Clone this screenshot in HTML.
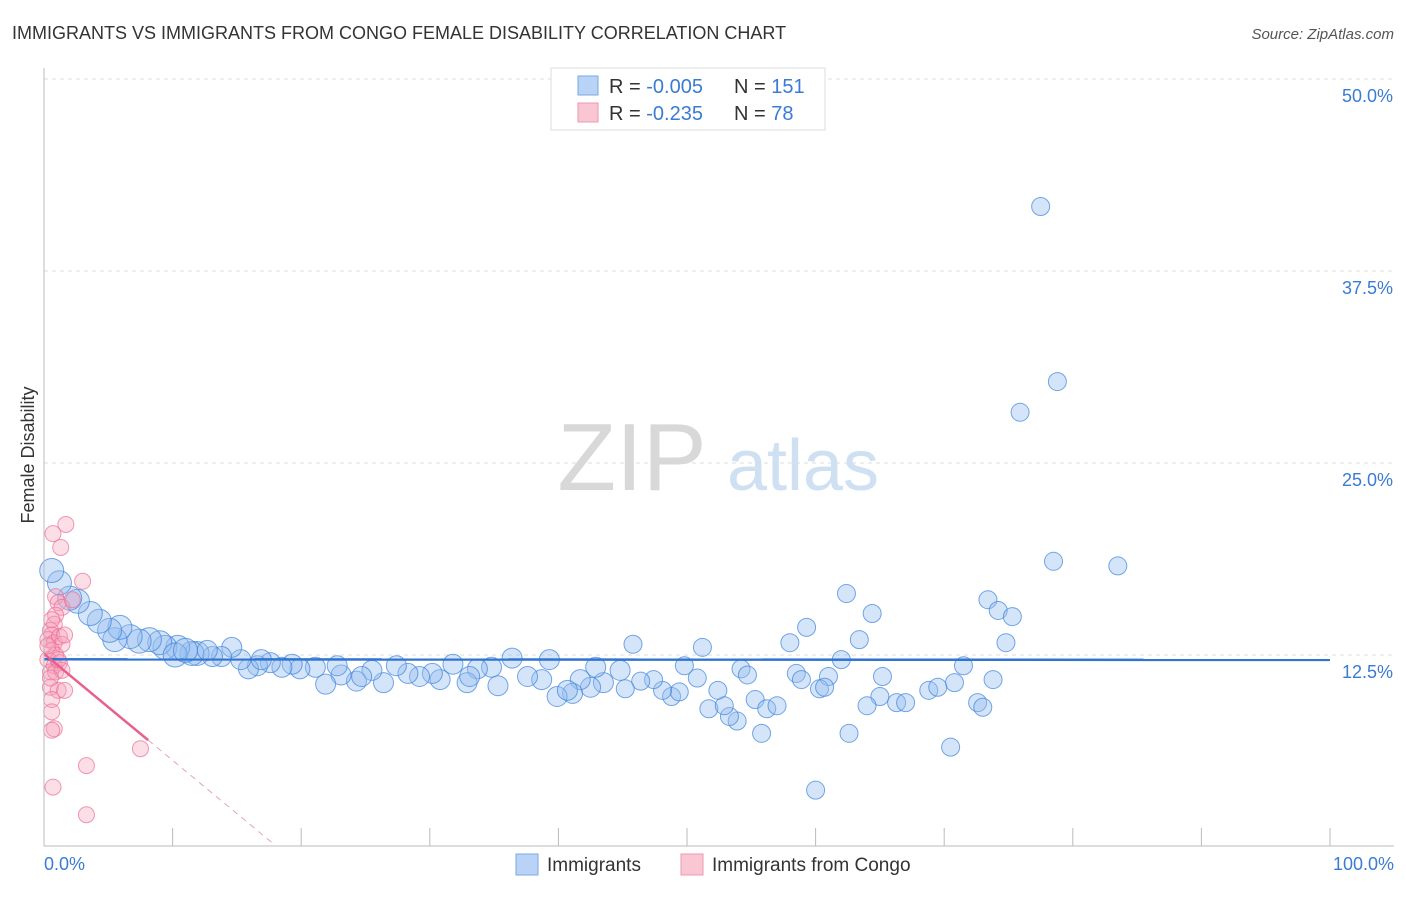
<!DOCTYPE html>
<html><head><meta charset="utf-8"><style>
body{margin:0;background:#fff;font-family:"Liberation Sans",sans-serif}
svg text{font-family:"Liberation Sans",sans-serif}
</style></head><body>
<svg id="chart" width="1406" height="892">
<text x="12" y="39" font-size="18" fill="#333">IMMIGRANTS VS IMMIGRANTS FROM CONGO FEMALE DISABILITY CORRELATION CHART</text>
<text x="1394" y="39" font-size="15" fill="#555" font-style="italic" text-anchor="end">Source: ZipAtlas.com</text>
<g id="grid"></g>
<g>
<text x="632" y="490" font-size="96" font-family="Liberation Serif,serif" fill="#d8d8d8" text-anchor="middle">ZIP</text>
<text x="803" y="490" font-size="72" fill="#cfe0f3" text-anchor="middle">atlas</text>
</g>
<g id="pts"></g>
<g id="trend"></g>
<g id="axes"></g>
<text transform="translate(34,455) rotate(-90)" font-size="18" fill="#333" text-anchor="middle">Female Disability</text>
<text x="44" y="870" font-size="18" fill="#3a7bd5">0.0%</text>
<text x="1394" y="870" font-size="18" fill="#3a7bd5" text-anchor="end">100.0%</text>
<g>
<rect x="551" y="68" width="274" height="62" fill="#fff" stroke="#ddd"/>
<rect x="578" y="76" width="20" height="19" fill="#b8d3f5" stroke="#7aa9e6"/>
<rect x="578" y="103" width="20" height="19" fill="#f9c6d4" stroke="#ef98b1"/>
<text x="609" y="93" font-size="20" fill="#333">R = <tspan fill="#3a7bd5">-0.005</tspan></text>
<text x="734" y="93" font-size="20" fill="#333">N = <tspan fill="#3a7bd5">151</tspan></text>
<text x="609" y="120" font-size="20" fill="#333">R = <tspan fill="#3a7bd5"> -0.235</tspan></text>
<text x="734" y="120" font-size="20" fill="#333">N = <tspan fill="#3a7bd5"> 78</tspan></text>
</g>
<g>
<rect x="516" y="854" width="22" height="21" fill="#b8d3f5" stroke="#7aa9e6"/>
<text x="547" y="871" font-size="19" fill="#333">Immigrants</text>
<rect x="681" y="854" width="22" height="21" fill="#f9c6d4" stroke="#ef98b1"/>
<text x="712" y="871" font-size="19" fill="#333">Immigrants from Congo</text>
</g>
</svg>
<script>
const yTicks=[12.5,25,37.5,50];
const yTickLabels=["12.5%","25.0%","37.5%","50.0%"];
const xTicks=[0,10,20,30,40,50,60,70,80,90,100];
const blueX=[77.5,78.8,75.9,78.5,83.5,62.4,73.4,74.2,75.3,64.4,59.3,58.0,63.4,74.8,51.2,62.0,71.5,73.8,70.8,65.2,61.0,58.5,58.9,60.3,60.7,65.0,66.3,67.0,64.0,68.8,69.5,72.6,73.0,70.5,62.6,60.0,55.8,53.9,53.3,51.7,52.9,55.3,56.2,57.0,52.4,49.8,50.8,54.2,54.7,48.8,49.4,48.1,47.4,46.4,45.2,44.8,45.8,43.5,42.9,42.5,41.7,41.1,39.9,40.7,39.3,38.7,37.6,36.4,35.3,34.8,33.7,32.9,33.1,31.8,30.8,30.2,29.2,28.3,27.4,26.4,25.5,24.3,24.7,23.1,21.9,22.8,21.1,19.9,19.3,18.5,17.6,16.6,15.9,16.9,15.3,14.6,13.8,13.1,11.9,11.5,10.4,9.4,9.0,8.2,7.4,6.7,5.5,5.9,5.1,4.3,3.6,2.6,2.0,1.2,0.6,10.2,11.0,12.7];
const blueY=[41.7,30.3,28.3,18.6,18.3,16.5,16.1,15.4,15.0,15.2,14.3,13.3,13.5,13.3,13.0,12.2,11.8,10.9,10.7,11.1,11.1,11.3,10.9,10.3,10.4,9.8,9.4,9.4,9.2,10.2,10.4,9.4,9.1,6.5,7.4,3.7,7.4,8.2,8.5,9.0,9.2,9.6,9.0,9.2,10.2,11.8,11.0,11.6,11.2,9.8,10.1,10.2,10.9,10.8,10.3,11.5,13.2,10.7,11.7,10.4,10.9,10.0,9.8,10.2,12.2,10.9,11.1,12.3,10.5,11.7,11.6,10.7,11.1,11.9,10.9,11.3,11.1,11.3,11.8,10.7,11.5,10.8,11.1,11.2,10.6,11.8,11.7,11.6,11.9,11.7,12.0,11.8,11.6,12.2,12.2,13.0,12.4,12.4,12.6,12.6,13.0,13.0,13.3,13.5,13.4,13.7,13.5,14.3,14.1,14.7,15.2,16.0,16.2,17.2,18.0,12.5,12.8,12.8];
const pinkX=[1.7,0.7,1.3,3.0,0.9,1.1,1.4,2.2,0.9,0.8,0.5,0.6,0.3,0.8,1.2,1.4,0.6,0.9,0.3,0.8,1.2,0.5,0.9,1.4,0.5,1.1,1.6,0.6,0.6,0.8,0.6,7.5,3.3,0.7,3.3,1.6,0.3,0.6,1.1,0.5];
const pinkY=[21.0,20.4,19.5,17.3,16.3,15.9,15.6,16.1,15.1,14.5,14.1,13.8,13.5,13.3,13.7,13.2,12.8,12.5,12.2,11.8,12.0,11.4,11.4,11.5,10.4,10.2,10.2,9.6,8.8,7.7,7.6,6.4,5.3,3.9,2.1,13.8,13.1,14.8,12.2,11.0];
const blueTrend=[12.22,12.18];
const pinkTrend={y0:12.57,slope:-0.693,solidEnd:8.1,dashEnd:17.96};
const X=v=>44+v*12.86, Y=v=>847-v*15.36;
const NS="http://www.w3.org/2000/svg";
function mk(t,a,p){const e=document.createElementNS(NS,t);for(const k in a)e.setAttribute(k,a[k]);p.appendChild(e);return e;}
const grid=document.getElementById('grid'),axes=document.getElementById('axes');
yTicks.forEach((t,i)=>{
 const l=mk('line',{x1:44,x2:1394,y1:Y(t),y2:Y(t),stroke:'#ddd','stroke-dasharray':'4,4'},grid);
 
 
 const tx=mk('text',{x:1393,y:Y(t)+23,'font-size':18,fill:'#3a7bd5','text-anchor':'end'},axes);
 tx.textContent=yTickLabels[i];
 
 
});
const al=mk('line',{x1:44,x2:44,y1:68,y2:846,stroke:'#bbb'},axes);


const bl=mk('line',{x1:44,x2:1394,y1:846,y2:846,stroke:'#bbb'},axes);


xTicks.forEach(t=>{
 const l=mk('line',{x1:X(t),x2:X(t),y1:828,y2:846,stroke:'#bbb'},axes);
 
 
});
const pts=document.getElementById('pts');
blueX.forEach((x,i)=>{
 const r=x<12?12:(x<45?10:9);
 const c=mk('circle',{cx:X(x),cy:Y(blueY[i]),r:r,fill:'rgba(150,190,240,0.4)',stroke:'rgba(60,130,220,0.7)','stroke-width':1},pts);
 
 
});
pinkX.forEach((x,i)=>{
 const c=mk('circle',{cx:X(x),cy:Y(pinkY[i]),r:8,fill:'rgba(245,160,185,0.35)',stroke:'rgba(235,110,150,0.7)','stroke-width':1},pts);
 
 
});
const tr=document.getElementById('trend');
const b=mk('line',{x1:X(0),x2:X(100),y1:Y(blueTrend[0]),y2:Y(blueTrend[1]),stroke:'#2f74d0','stroke-width':2.5},tr);


const py=x=>pinkTrend.y0+pinkTrend.slope*x;
const p1=mk('line',{x1:X(0),x2:X(pinkTrend.solidEnd),y1:Y(py(0)),y2:Y(py(pinkTrend.solidEnd)),stroke:'#e8608c','stroke-width':2.5},tr);


const p2=mk('line',{x1:X(pinkTrend.solidEnd),x2:X(pinkTrend.dashEnd),y1:Y(py(pinkTrend.solidEnd)),y2:Y(py(pinkTrend.dashEnd)),stroke:'#eba0b8','stroke-width':1,'stroke-dasharray':'6,5'},tr);


</script>
</body></html>
